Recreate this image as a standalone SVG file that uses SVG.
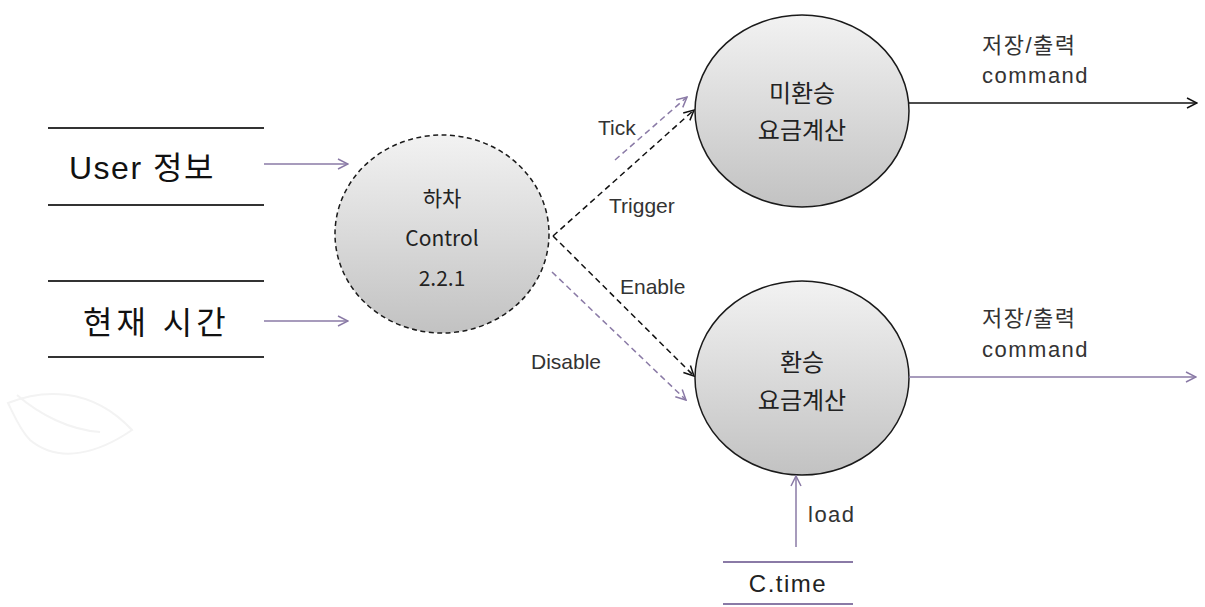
<svg xmlns="http://www.w3.org/2000/svg" width="1205" height="607" viewBox="0 0 1205 607">
  <style>
    .bubble { fill: url(#bubbleFill); stroke: #1a1a1a; stroke-width: 1.5; }
    .ctrl { stroke-dasharray: 5 3.5; }
    .store { stroke: #333; stroke-width: 2; }
    .store-p { stroke: #8a7aa6; stroke-width: 2; }
    .flow { fill: none; stroke: #8a7aa6; stroke-width: 1.5; marker-end: url(#headP); }
    .flow-k { fill: none; stroke: #111; stroke-width: 1.5; marker-end: url(#headK); }
    .dash { stroke-dasharray: 6 4; }
    .lbl { font-family: "Liberation Sans", "Noto Sans CJK KR", sans-serif; font-size: 21px; fill: #333; }
    .out { font-family: "Liberation Sans", "Noto Sans CJK KR", sans-serif; font-size: 22px; letter-spacing: 1.5px; fill: #333; }
    .in { font-family: "Noto Sans CJK KR", "Liberation Sans", sans-serif; font-size: 21px; fill: #222; text-anchor: middle; }
    .in-l { font-family: "Noto Sans CJK KR", "Liberation Sans", sans-serif; font-size: 24px; fill: #222; text-anchor: middle; }
    .big { font-family: "Liberation Sans", "Noto Sans CJK KR", sans-serif; font-size: 32px; letter-spacing: 1.5px; fill: #111; }
    .leaf { fill: none; stroke: #f3f3f3; stroke-width: 2; }
  </style>
  <defs>
    <linearGradient id="bubbleFill" x1="0" y1="0" x2="0" y2="1">
      <stop offset="0" stop-color="#f2f2f2"/>
      <stop offset="1" stop-color="#c2c2c2"/>
    </linearGradient>
    <marker id="headP" markerWidth="12" markerHeight="12" refX="11" refY="6" orient="auto" markerUnits="userSpaceOnUse">
      <path d="M1,1 L11,6 L1,11" fill="none" stroke="#8a7aa6" stroke-width="1.5"/>
    </marker>
    <marker id="headK" markerWidth="12" markerHeight="12" refX="11" refY="6" orient="auto" markerUnits="userSpaceOnUse">
      <path d="M1,1 L11,6 L1,11" fill="none" stroke="#111" stroke-width="1.5"/>
    </marker>
  </defs>

  <!-- faint leaf ornament -->
  <g id="ornament">
    <path class="leaf" d="M8,403 C40,390 90,385 132,430 C100,452 60,465 30,440 C20,430 14,415 8,403 Z"/>
    <path class="leaf" d="M17,395 C40,415 70,430 100,432"/>
  </g>

  <!-- data stores -->
  <g id="store-user">
    <line class="store" x1="48" y1="128" x2="264" y2="128"/>
    <line class="store" x1="48" y1="205" x2="264" y2="205"/>
    <text class="big" x="69" y="179">User 정보</text>
  </g>
  <g id="store-time">
    <line class="store" x1="48" y1="281" x2="264" y2="281"/>
    <line class="store" x1="48" y1="357" x2="264" y2="357"/>
    <text class="big" x="83" y="334" style="letter-spacing:4px">현재 시간</text>
  </g>
  <g id="store-ctime">
    <line class="store-p" x1="723" y1="562" x2="853" y2="562"/>
    <line class="store-p" x1="723" y1="604" x2="853" y2="604"/>
    <text class="out" x="788" y="592" text-anchor="middle" style="font-size:24px;fill:#222">C.time</text>
  </g>

  <!-- processes -->
  <g id="proc-control">
    <ellipse class="bubble ctrl" cx="442" cy="234" rx="107" ry="99"/>
    <text class="in" x="442" y="206">하차</text>
    <text class="in" x="442" y="246">Control</text>
    <text class="in" x="442" y="286">2.2.1</text>
  </g>
  <g id="proc-nontransfer">
    <ellipse class="bubble" cx="802" cy="111" rx="107" ry="96"/>
    <text class="in-l" x="802" y="102">미환승</text>
    <text class="in-l" x="802" y="139">요금계산</text>
  </g>
  <g id="proc-transfer">
    <ellipse class="bubble" cx="802" cy="378" rx="107" ry="97"/>
    <text class="in-l" x="802" y="371">환승</text>
    <text class="in-l" x="802" y="409">요금계산</text>
  </g>

  <!-- flows -->
  <g id="connectors">
    <line class="flow" x1="264" y1="164" x2="348" y2="164"/>
    <line class="flow" x1="264" y1="321" x2="348" y2="321"/>
    <line class="flow dash" x1="615" y1="160" x2="687" y2="97"/>
    <line class="flow-k dash" x1="553" y1="236" x2="694" y2="110"/>
    <line class="flow-k dash" x1="553" y1="236" x2="694" y2="376"/>
    <line class="flow dash" x1="552" y1="272" x2="686" y2="400"/>
    <line class="flow-k" x1="909" y1="103" x2="1197" y2="103"/>
    <line class="flow" x1="909" y1="377" x2="1196" y2="377"/>
    <line class="flow" x1="796" y1="547" x2="796" y2="476"/>
    <text class="lbl" x="598" y="135">Tick</text>
    <text class="lbl" x="609" y="213">Trigger</text>
    <text class="lbl" x="620" y="294">Enable</text>
    <text class="lbl" x="531" y="369">Disable</text>
    <text class="out" x="808" y="522">load</text>
    <text class="out" x="982" y="53">저장/출력</text>
    <text class="out" x="982" y="83">command</text>
    <text class="out" x="982" y="326">저장/출력</text>
    <text class="out" x="982" y="357">command</text>
  </g>
</svg>
